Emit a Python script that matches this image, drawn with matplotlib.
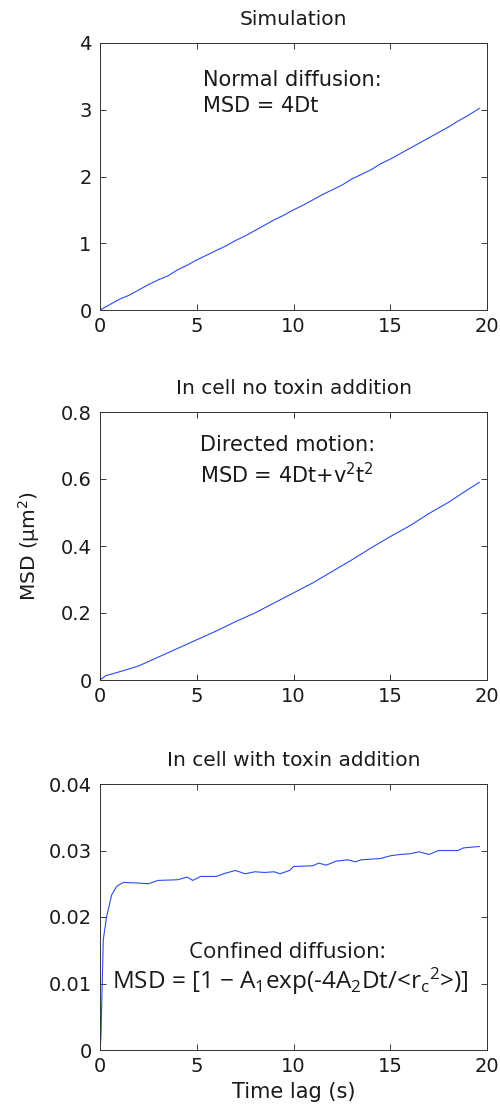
import matplotlib
matplotlib.use("Agg")
import matplotlib.pyplot as plt

plt.rcParams['font.family'] = ['DejaVu Sans']
plt.rcParams['mathtext.fontset'] = 'custom'
plt.rcParams['mathtext.rm'] = 'Open Sans'
plt.rcParams['mathtext.it'] = 'Open Sans'
plt.rcParams['mathtext.default'] = 'rm'

# Panel 1: Simulation (normal diffusion)
t1 = [0, 0.5, 1, 1.5, 2, 2.5, 3, 3.5, 4, 4.5, 5, 5.5, 6, 6.5, 7, 7.5, 8, 8.5, 9, 9.5,
      10, 10.5, 11, 11.5, 12, 12.5, 13, 13.5, 14, 14.5, 15, 15.5, 16, 16.5, 17, 17.5,
      18, 18.5, 19, 19.6]
msd1 = [0.0, 0.08, 0.16, 0.22, 0.3, 0.38, 0.45, 0.51, 0.6, 0.67, 0.75, 0.82, 0.89, 0.96,
        1.04, 1.11, 1.19, 1.27, 1.35, 1.42, 1.5, 1.57, 1.65, 1.73, 1.8, 1.87, 1.96, 2.03,
        2.1, 2.19, 2.26, 2.34, 2.42, 2.5, 2.58, 2.66, 2.74, 2.83, 2.91, 3.02]

# Panel 2: In cell no toxin addition (directed motion)
t2 = [0, 0.3, 0.8, 1.5, 2, 3, 4, 5, 6, 7, 8, 9, 10, 11, 12, 13, 14, 15, 16, 17, 18, 19, 19.6]
msd2 = [0.0, 0.013, 0.021, 0.033, 0.042, 0.068, 0.094, 0.12, 0.146, 0.174, 0.2, 0.23,
        0.26, 0.29, 0.324, 0.358, 0.394, 0.428, 0.46, 0.497, 0.53, 0.568, 0.59]

# Panel 3: In cell with toxin addition (confined diffusion)
t3 = [0, 0.05, 0.09, 0.17, 0.34, 0.6, 0.86, 1.2, 2, 2.5, 3, 4, 4.5, 4.8, 5.2, 6, 6.5, 7,
      7.5, 8, 8.5, 9, 9.3, 9.8, 10, 11, 11.3, 11.7, 12.2, 12.8, 13.2, 13.5, 14.5, 15,
      15.5, 16, 16.5, 17, 17.5, 18, 18.5, 18.8, 19.6]
msd3 = [0.0, 0.002, 0.007, 0.0166, 0.020, 0.0233, 0.0246, 0.0252, 0.0251, 0.025, 0.0255,
        0.0256, 0.026, 0.0255, 0.0261, 0.0261, 0.0266, 0.027, 0.0265, 0.0268, 0.0267,
        0.0268, 0.0265, 0.027, 0.0276, 0.0277, 0.0281, 0.0278, 0.0284, 0.0286, 0.0283,
        0.0286, 0.0288, 0.0292, 0.0294, 0.0295, 0.0298, 0.0294, 0.03, 0.03, 0.03,
        0.0304, 0.0306]

titles = ["Simulation", "In cell no toxin addition", "In cell with toxin addition"]
xticks = [0, 5, 10, 15, 20]
yticks1 = [0, 1, 2, 3, 4]
yticks2 = [0, 0.2, 0.4, 0.6, 0.8]
yticks3 = [0, 0.01, 0.02, 0.03, 0.04]
yticklabels1 = ["0", "1", "2", "3", "4"]
yticklabels2 = ["0", "0.2", "0.4", "0.6", "0.8"]
yticklabels3 = ["0", "0.01", "0.02", "0.03", "0.04"]

fig = plt.figure(figsize=(5.0, 11.1), dpi=100)
W, H = 500, 1110
left, right = 100, 487
tops = [43, 412, 784]
bottoms = [310, 680, 1050]

line_color = '#2a4cf0'
txt_color = '#1a1a1a'
axes = []
for i in range(3):
    ax = fig.add_axes([left / W, 1 - bottoms[i] / H, (right - left) / W,
                       (bottoms[i] - tops[i]) / H])
    axes.append(ax)

data = [(t1, msd1, yticks1, yticklabels1, 4),
        (t2, msd2, yticks2, yticklabels2, 0.8),
        (t3, msd3, yticks3, yticklabels3, 0.04)]

for ax, (t, m, yt, ytl, ymax), title in zip(axes, data, titles):
    ax.plot(t, m, color=line_color, lw=0.8)
    ax.set_xlim(0, 20)
    ax.set_ylim(0, ymax)
    ax.set_xticks(xticks)
    ax.set_xticklabels([str(x) for x in xticks])
    ax.set_yticks(yt)
    ax.set_yticklabels(ytl)
    ax.tick_params(direction='in', top=True, right=True, length=4, width=0.6,
                   labelsize=14, colors=txt_color)
    ax.tick_params(axis='x', pad=5)
    ax.tick_params(axis='y', pad=6)
    for s in ax.spines.values():
        s.set_linewidth(0.7)
        s.set_color('#333333')
    ax.set_title(title, fontsize=14.5, color=txt_color, pad=13)

axes[0].text(5.3, 3.36, "Normal diffusion:", fontsize=15, va='baseline', ha='left',
             color=txt_color)
axes[0].text(5.3, 2.97, "MSD = 4Dt", fontsize=15, va='baseline', ha='left',
             color=txt_color)

axes[1].text(5.17, 0.684, "Directed motion:", fontsize=15, va='baseline', ha='left',
             color=txt_color)
axes[1].text(5.17, 0.588, "MSD = 4Dt+v$^{2}$t$^{2}$", fontsize=15, va='baseline',
             ha='left', color=txt_color, math_fontfamily='dejavusans')
axes[1].set_ylabel("MSD (\u03bcm$^{2}$)", fontsize=14.5, color=txt_color,
                   math_fontfamily='dejavusans')
axes[1].yaxis.set_label_coords(-0.15, 0.5)

axes[2].text(9.7, 0.0138, "Confined diffusion:", fontsize=16, va='baseline', ha='center',
             family=['Open Sans', 'DejaVu Sans'], color=txt_color)
axes[2].text(0.62, 0.0092,
             "MSD = [1 \u2212 A$_{1}$exp(-4A$_{2}$Dt/<r$_{c}$$^{2}$>)]",
             fontsize=17.5, va='baseline', ha='left',
             family=['Open Sans', 'DejaVu Sans'], color=txt_color)
axes[2].set_xlabel("Time lag (s)", fontsize=15, color=txt_color)
axes[2].xaxis.set_label_coords(0.5, -0.12)

fig.savefig("out.png", dpi=100)
